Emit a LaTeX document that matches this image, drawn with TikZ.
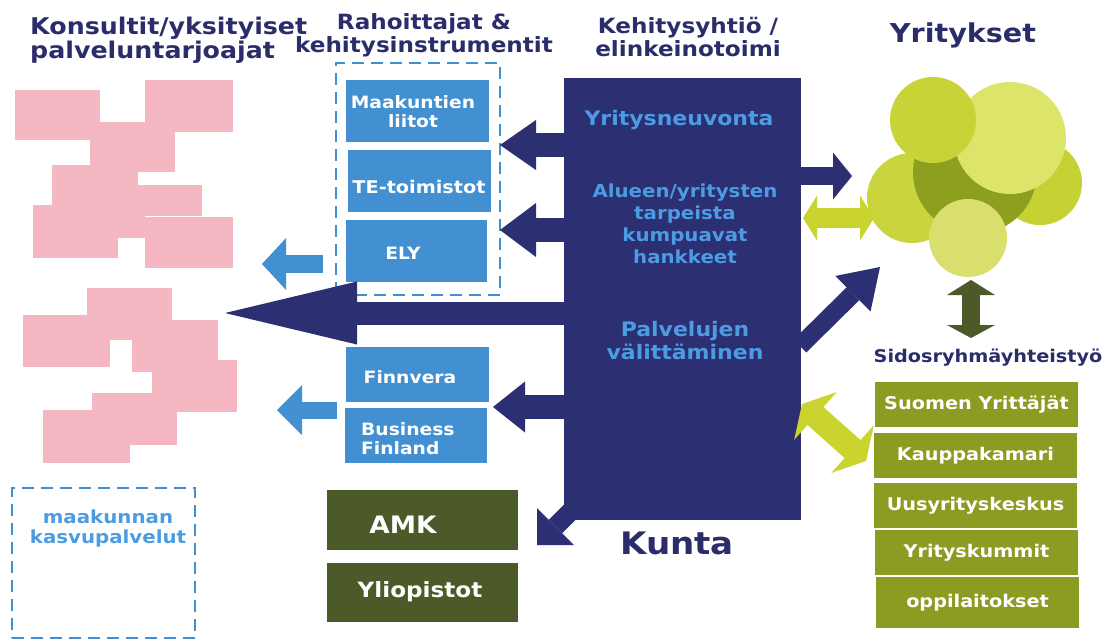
\documentclass[tikz,border=0pt]{standalone}
\usepackage{fontspec}
\setmainfont{DejaVu Sans}[FakeStretch=1.1]
\usetikzlibrary{arrows.meta}
\definecolor{navy}{HTML}{2C2F72}
\definecolor{titlec}{HTML}{2B2D6B}
\definecolor{lblue}{HTML}{4290D2}
\definecolor{tblue}{HTML}{4B9CE2}
\definecolor{pinkc}{HTML}{F5B8C2}
\definecolor{dolive}{HTML}{4C5A29}
\definecolor{olive}{HTML}{8C9B22}
\definecolor{ylw}{HTML}{C9D42F}
\definecolor{cA}{HTML}{C8D338}
\definecolor{cB}{HTML}{DDE46A}
\definecolor{cC}{HTML}{CAD43C}
\definecolor{cD}{HTML}{C6D133}
\definecolor{cE}{HTML}{D8DF6C}
\definecolor{cdark}{HTML}{8E9F1F}
\newcommand{\fs}[1]{\bfseries\fontsize{#1}{#1}\selectfont}
\begin{document}
\begin{tikzpicture}[x=1pt,y=-1pt,
  title/.style={text=titlec, font=\fs{21}, align=center, inner sep=0},
  bluebox/.style={fill=lblue, inner sep=0},
  btext/.style={text=white, font=\fs{17}, inner sep=0, align=center},
  olbox/.style={fill=olive, text=white, font=\fs{17.5}, inner sep=0, minimum width=203pt},
  dkbox/.style={fill=dolive, inner sep=0, minimum width=191pt},
  intext/.style={text=tblue, font=\fs{20}, align=center, inner sep=0},
  dashbox/.style={draw=lblue, line width=2.3pt, dash pattern=on 12pt off 7pt},
  darrow/.style={draw=navy, line width=#1},
  larrow/.style={draw=lblue, line width=#1},
  yarrow/.style={draw=ylw, line width=#1},
  oarrow/.style={draw=dolive, line width=#1}
]
\useasboundingbox[fill=white] (0,0) rectangle (1113,641);

% pink shapes
\fill[pinkc] (15,90) rectangle (100,140);
\fill[pinkc] (145,80) rectangle (233,132);
\fill[pinkc] (90,122) rectangle (175,172);
\fill[pinkc] (52,165) rectangle (138,205);
\fill[pinkc] (52,185) rectangle (202,216);
\fill[pinkc] (33,205) rectangle (118,258);
\fill[pinkc] (118,205) rectangle (145,238);
\fill[pinkc] (145,217) rectangle (233,268);

\fill[pinkc] (87,288) rectangle (172,322);
\fill[pinkc] (23,315) rectangle (110,367);
\fill[pinkc] (110,315) rectangle (132,340);
\fill[pinkc] (132,320) rectangle (218,360);
\fill[pinkc] (152,360) rectangle (237,412);
\fill[pinkc] (132,360) rectangle (152,372);
\fill[pinkc] (92,393) rectangle (177,445);
\fill[pinkc] (43,410) rectangle (130,463);

% titles
\node[title, font=\fs{23}, anchor=west, align=left] (tkons) at (30,40) {Konsultit/yksityiset\\[1pt]palveluntarjoajat};
\node[title] (trah) at (424,35) {Rahoittajat \&\\[2pt]kehitysinstrumentit};
\node[title] (tkeh) at (688,37) {Kehitysyhtiö /\\[2pt]elinkeinotoimi};
\node[title, font=\fs{26}] (tyr) at (963,35) {Yritykset};

% dashed boxes
\node[dashbox, minimum width=164pt, minimum height=232pt, inner sep=0] (fund) at (418,179) {};
\node[dashbox, minimum width=183pt, minimum height=150pt, inner sep=0] (kasvu) at (103.5,563) {};
\node[intext, font=\fs{18}] (tkasvu) at (108,529) {maakunnan\\[2pt]kasvupalvelut};

% blue boxes
\node[bluebox, minimum width=143pt, minimum height=62pt] (maak) at (417.5,111) {};
\node[btext] (tmaak) at (413,112) {Maakuntien\\[2pt]liitot};
\node[bluebox, minimum width=143pt, minimum height=62pt] (te) at (419.5,181) {};
\node[btext, font=\fs{17.5}] (tte) at (419,187) {TE-toimistot};
\node[bluebox, minimum width=141pt, minimum height=62pt] (ely) at (416.5,251) {};
\node[btext] (tely) at (403,253) {ELY};
\node[bluebox, minimum width=143pt, minimum height=55pt] (finn) at (417.5,374.5) {};
\node[btext] (tfinn) at (410,377) {Finnvera};
\node[bluebox, minimum width=142pt, minimum height=55pt] (bf) at (416,435.5) {};
\node[btext, align=left, anchor=west] (tbf) at (361,439) {Business\\[2pt]Finland};

% dark olive boxes
\node[dkbox, minimum height=60pt] (amk) at (422.5,520) {};
\node[btext, font=\fs{24}] (tamk) at (403,525) {AMK};
\node[dkbox, minimum height=59pt] (yli) at (422.5,592.5) {};
\node[btext, font=\fs{21}] (tyli) at (420,592) {Yliopistot};

% navy box
\node[fill=navy, minimum width=237pt, minimum height=442pt, inner sep=0] (keh) at (682.5,299) {};
\node[intext] (tneu) at (679,120) {Yritysneuvonta};
\node[intext, font=\fs{18}] (thank) at (685,224) {Alueen/yritysten\\[4pt]tarpeista\\[4pt]kumpuavat\\[4pt]hankkeet};
\node[intext] (tpalv) at (685,341) {Palvelujen\\[3pt]välittäminen};
\node[text=titlec, font=\fs{31}, inner sep=0] (kunta) at (677,543) {Kunta};

% coordinates for arrows
\coordinate (a1s) at (566,145); \coordinate (a1t) at (500,145);
\coordinate (a2s) at (566,230); \coordinate (a2t) at (500,230);
\coordinate (a3s) at (566,313); \coordinate (a3t) at (225,313);
\coordinate (a4s) at (566,407); \coordinate (a4t) at (493,407);
\coordinate (l1s) at (323,264); \coordinate (l1t) at (262,264);
\coordinate (l2s) at (337,410); \coordinate (l2t) at (277,410);
\coordinate (ks) at (590,492); \coordinate (kt) at (537,545);
\coordinate (r1s) at (800,176); \coordinate (r1t) at (852,176);
\coordinate (y1s) at (803,218); \coordinate (y1t) at (874,218);
\coordinate (d1s) at (800,346); \coordinate (d1t) at (880,267);
\coordinate (y2s) at (802,404); \coordinate (y2t) at (866,461);
\coordinate (v1s) at (971,280); \coordinate (v1t) at (971,338);

% arrows left
\draw[darrow=24pt, -{Triangle[width=50pt,length=36pt,line width=0pt]}] (a1s) -- (a1t);
\draw[darrow=24pt, -{Triangle[width=54pt,length=36pt,line width=0pt]}] (a2s) -- (a2t);
\draw[darrow=23pt, -{Triangle[width=63pt,length=132pt,line width=0pt]}] (a3s) -- (a3t);
\draw[darrow=24pt, -{Triangle[width=51pt,length=32pt,line width=0pt]}] (a4s) -- (a4t);
\draw[larrow=18pt, -{Triangle[width=52pt,length=24pt,line width=0pt]}] (l1s) -- (l1t);
\draw[larrow=17pt, -{Triangle[width=50pt,length=25pt,line width=0pt]}] (l2s) -- (l2t);
\draw[darrow=19pt, -{Triangle[width=52pt,length=26pt,line width=0pt]}] (ks) -- (kt);

% circles (Yritykset)
\fill[cC] (912,198) circle (45);
\fill[cD] (1040,183) circle (42);
\fill[cdark] (975,172) circle (62);
\fill[cB] (1010,138) circle (56);
\fill[cA] (933,120) circle (43);
\fill[cE] (968,238) circle (39);

% arrows right
\draw[darrow=18pt, -{Triangle[width=47pt,length=19pt,line width=0pt]}] (r1s) -- (r1t);
\draw[yarrow=20pt, {Triangle[width=45pt,length=14pt,line width=0pt]}-{Triangle[width=45pt,length=14pt,line width=0pt]}] (y1s) -- (y1t);
\draw[darrow=18pt, -{Triangle[width=50pt,length=38pt,line width=0pt]}] (d1s) -- (d1t);
\draw[yarrow=24pt, {Triangle[width=64pt,length=18pt,line width=0pt]}-{Triangle[width=64pt,length=18pt,line width=0pt]}] (y2s) -- (y2t);
\draw[oarrow=18pt, {Triangle[width=48pt,length=15pt,line width=0pt]}-{Triangle[width=48pt,length=13pt,line width=0pt]}] (v1s) -- (v1t);

% stakeholder
\node[text=titlec, font=\fs{17.5}, inner sep=0] (tsid) at (988,358) {Sidosryhmäyhteistyö};
\node[olbox, minimum height=45pt] (suo) at (976.5,404.5) {Suomen Yrittäjät};
\node[olbox, minimum height=45pt] (kau) at (975.5,455.5) {Kauppakamari};
\node[olbox, minimum height=45pt] (uus) at (975.5,505.5) {Uusyrityskeskus};
\node[olbox, minimum height=45pt] (yrk) at (976.5,552.5) {Yrityskummit};
\node[olbox, minimum height=51pt] (opp) at (977.5,602.5) {oppilaitokset};
\end{tikzpicture}
\end{document}
